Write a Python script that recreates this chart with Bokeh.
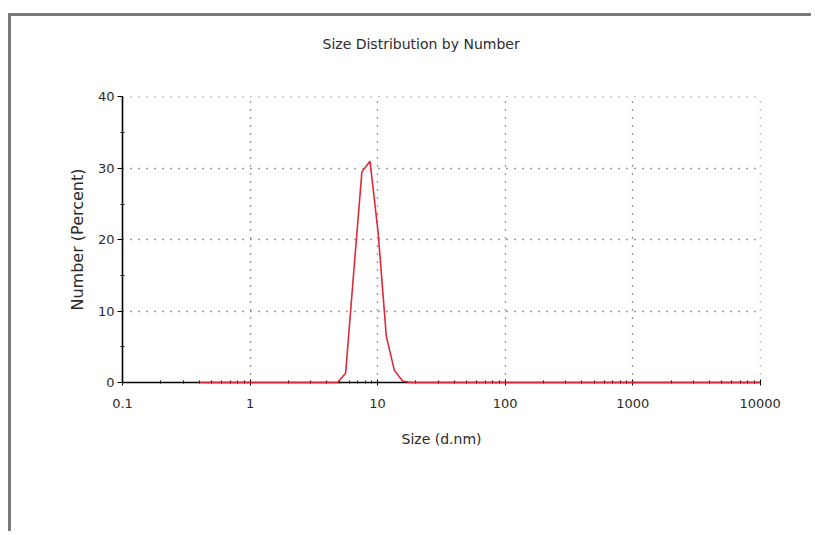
from bokeh.plotting import figure
from bokeh.layouts import column
from bokeh.models import FixedTicker, CustomJSTickFormatter, Title
from bokeh.embed import file_html
from bokeh.resources import INLINE

# Size bins (d.nm) and number distribution (%)
sizes = [0.4000, 0.4632, 0.5365, 0.6213, 0.7195, 0.8332, 0.9649, 1.117, 1.294, 1.499,
         1.736, 2.010, 2.328, 2.696, 3.122, 3.615, 4.187, 4.849, 5.615, 6.503,
         7.531, 8.721, 10.10, 11.70, 13.54, 15.69, 18.17, 21.04, 24.36, 28.21,
         32.67, 37.84, 43.82, 50.75, 58.77, 68.06, 78.82, 91.28, 105.7, 122.4,
         141.8, 164.2, 190.1, 220.2, 255.0, 295.3, 342.0, 396.1, 458.7, 531.2,
         615.1, 712.4, 825.0, 955.4, 1106, 1281, 1484, 1718, 1990, 2305,
         2669, 3091, 3580, 4145, 4801, 5560, 6439, 7456, 8635, 10000]
number_pct = [0, 0, 0, 0, 0, 0, 0, 0, 0, 0,
              0, 0, 0, 0, 0, 0, 0, 0, 1.3, 15.5,
              29.5, 31.0, 21.0, 6.5, 1.7, 0.2, 0, 0, 0, 0,
              0, 0, 0, 0, 0, 0, 0, 0, 0, 0,
              0, 0, 0, 0, 0, 0, 0, 0, 0, 0,
              0, 0, 0, 0, 0, 0, 0, 0, 0, 0,
              0, 0, 0, 0, 0, 0, 0, 0, 0, 0]

title_text = "Size Distribution by Number"
x_ticks = [0.1, 1, 10, 100, 1000, 10000]
y_ticks = [0, 10, 20, 30, 40]
y_minor = [5, 15, 25, 35]

FONT = "DejaVu Sans"
TXT = "#2b2b2b"

p = figure(width=800, height=515, x_axis_type="log",
           x_range=(0.1, 10050), y_range=(0, 40.06),
           output_backend="svg", toolbar_location=None,
           min_border_left=111, min_border_right=51,
           min_border_top=80, min_border_bottom=149)

p.background_fill_color = "white"
p.border_fill_color = "white"
p.outline_line_color = None

# blank spacer next to the frame, then the title above it
p.add_layout(Title(text=" ", text_font=FONT, text_font_size="14px",
                   text_color="white", standoff=12), "above")
p.add_layout(Title(text=title_text, text_font=FONT, text_font_size="14px",
                   text_font_style="normal", text_color=TXT,
                   align="left", offset=200, standoff=30), "above")

x_minor = [m * 10.0 ** e for e in range(-1, 4) for m in range(2, 10)]
p.xaxis.ticker = FixedTicker(ticks=x_ticks, minor_ticks=x_minor)
p.yaxis.ticker = FixedTicker(ticks=y_ticks, minor_ticks=y_minor)
p.xaxis.formatter = CustomJSTickFormatter(
    code="return tick < 1 ? tick.toString() : tick.toFixed(0);")

p.xaxis.axis_label = "Size (d.nm)"
p.yaxis.axis_label = "Number (Percent)"

for ax in (p.xaxis, p.yaxis):
    ax.axis_line_color = "black"
    ax.axis_line_width = 1.6
    ax.major_tick_line_color = "black"
    ax.minor_tick_line_color = "black"
    ax.major_label_text_font = FONT
    ax.major_label_text_font_size = "13px"
    ax.major_label_text_color = TXT
    ax.axis_label_text_font = FONT
    ax.axis_label_text_font_style = "normal"
    ax.axis_label_text_color = TXT

p.xaxis.axis_label_text_font_size = "14px"
p.yaxis.axis_label_text_font_size = "16px"

p.xaxis.major_tick_in = 3
p.xaxis.major_tick_out = 3
p.xaxis.minor_tick_in = 2
p.xaxis.minor_tick_out = 1
p.xaxis.major_label_standoff = 13
p.xaxis.axis_label_standoff = 20

p.yaxis.major_tick_in = 0
p.yaxis.major_tick_out = 5
p.yaxis.minor_tick_in = 2
p.yaxis.minor_tick_out = 2
p.yaxis.major_label_standoff = 3
p.yaxis.axis_label_standoff = 8

for g in (p.xgrid, p.ygrid):
    g.grid_line_color = "#333333"
    g.grid_line_width = 1.3
    g.grid_line_dash = "1 7"
p.xgrid.minor_grid_line_color = None

p.line(sizes, number_pct, line_color="#e02a3a", line_width=1.6, level="overlay")

page = column(p, styles={"margin-top": "13px", "margin-left": "8px",
                         "border-top": "3px solid #7a7a7a",
                         "border-left": "3px solid #7a7a7a"})

open("out.html", "w").write(file_html(page, INLINE))
